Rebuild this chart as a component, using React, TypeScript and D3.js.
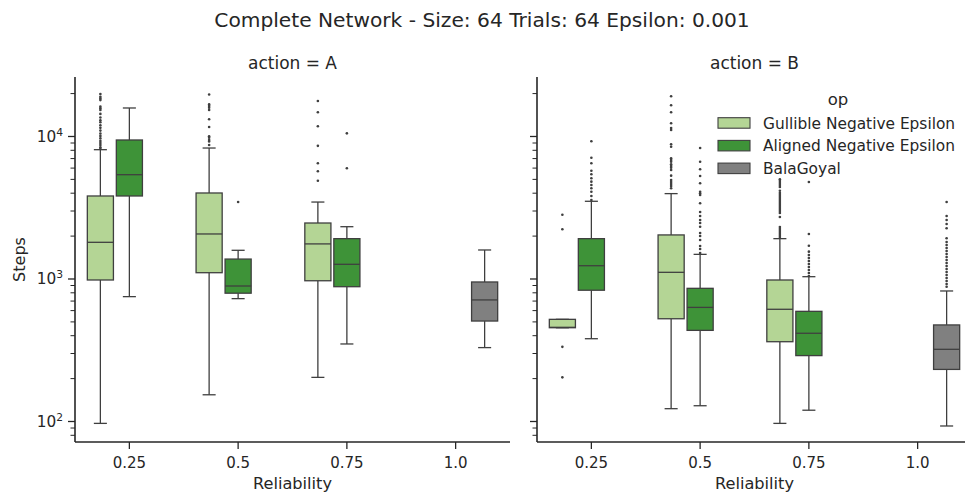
import React, { useEffect, useRef } from 'react'
import * as d3 from 'd3'

const actions = ['A', 'B']
const reliabilities = ['0.25', '0.5', '0.75', '1.0']
const ops = ['Gullible Negative Epsilon', 'Aligned Negative Epsilon', 'BalaGoyal']
const opColors = ['#b4d595', '#3e9338', '#808080']

// [whisker low, q1, median, q3, whisker high] for each reliability, null = not run
const gullibleA = [[97, 984, 1809, 3824, 8080], [154, 1107, 2070, 4014, 8300], [204, 972, 1763, 2471, 3467], null]
const alignedA = [[752, 3824, 5394, 9450, 15850], [728, 795, 893, 1380, 1590], [350, 883, 1268, 1919, 2328], null]
const balaA = [null, null, null, [330, 507, 713, 953, 1598]]
const gullibleB = [[455, 455, 458, 521, 521], [123, 526, 1114, 2038, 3973], [97, 363, 613, 984, 1919], null]
const alignedB = [[381, 834, 1239, 1919, 3510], [129, 436, 632, 860, 1489], [120, 290, 416, 593, 1038], null]
const balaB = [null, null, null, [93, 232, 321, 476, 824]]

// fliers
const gullibleAOut = [
  [19860, 19000, 18500, 18000, 16200, 15800, 15350, 14400, 13600, 13000, 12600, 12000, 11500, 11000, 10500, 10100, 9700, 9300, 9000, 8700, 8400, 8200],
  [19700, 16800, 16400, 15900, 15350, 13200, 11650, 10030, 9800, 9450, 9220, 8720],
  [17740, 14790, 11790, 8600, 6490, 5700, 4890],
  [],
]
const alignedAOut = [[], [3467], [10520, 5990], []]
const balaAOut = [[], [], [], []]
const gullibleBOut = [
  [2825, 2233, 334, 204],
  [19140, 16560, 14790, 12380, 11470, 11110, 8820, 8480, 7030, 6840, 6655, 6380, 6205, 6040, 5820, 5310, 4950, 4797, 4644, 4497, 4330],
  [5007, 4872, 4717, 4566, 4421, 4166, 4013, 3885, 3762, 3642, 3527, 3415, 3306, 3201, 3099, 3001, 2906, 2724, 2317, 2244, 2173, 2103, 2034, 1970],
  [],
]
const alignedBOut = [
  [9253, 7100, 6486, 5754, 5429, 5089, 4819, 4566, 4330, 4099, 3824, 3584],
  [8300, 6655, 5890, 5284, 4694, 4099, 3994, 3885, 3398, 2953, 2768, 2593, 2471, 2328, 2103, 2003, 1876, 1704, 1623, 1522],
  [4797, 2067, 1713, 1555, 1472, 1404, 1337, 1274, 1214, 1156, 1102, 1050],
  [],
]
const balaBOut = [
  [],
  [],
  [],
  [3467, 2768, 2593, 2432, 2269, 1930, 1818, 1730, 1650, 1572, 1497, 1427, 1358, 1295, 1234, 1176, 1120, 1066, 1016, 968, 923, 883],
]

const yMajor = [100, 1000, 10000]

export default function App() {
  const ref = useRef<SVGSVGElement>(null)

  useEffect(() => {
    const svg = d3.select(ref.current)
    svg.selectAll('*').remove()

    const ink = '#262626'
    const lineColor = '#3f3f3f'
    const top = 77
    const bottom = 442
    const panelW = 435
    const panelLeft = [75, 537]

    const stats = [
      [gullibleA, alignedA, balaA],
      [gullibleB, alignedB, balaB],
    ]
    const fliers = [
      [gullibleAOut, alignedAOut, balaAOut],
      [gullibleBOut, alignedBOut, balaBOut],
    ]

    const y = d3.scaleLog().domain([71.8, 26150]).range([bottom, top])
    const minorTicks = y.ticks().filter((t) => !yMajor.includes(t))

    svg
      .append('text')
      .attr('x', 482)
      .attr('y', 27)
      .attr('text-anchor', 'middle')
      .attr('font-size', 20.2)
      .attr('fill', ink)
      .text('Complete Network - Size: 64 Trials: 64 Epsilon: 0.001')

    actions.forEach((action, ai) => {
      const x0 = panelLeft[ai]
      const x = d3.scaleBand().domain(reliabilities).range([x0, x0 + panelW]).padding(0)
      const bw = x.bandwidth()
      const hue = d3.scaleBand().domain(ops).range([-0.4 * bw, 0.4 * bw])
      const boxW = hue.bandwidth() * 0.9
      const g = svg.append('g')

      // facet title
      g.append('text')
        .attr('x', x0 + panelW / 2)
        .attr('y', 69)
        .attr('text-anchor', 'middle')
        .attr('font-size', 17)
        .attr('fill', ink)
        .text(`action = ${action}`)

      // boxes
      ops.forEach((op, oi) => {
        reliabilities.forEach((r, ri) => {
          const s = stats[ai][oi][ri]
          if (!s) return
          const cx = x(r)! + bw / 2 + hue(op)! + hue.bandwidth() / 2
          const [lo, q1, med, q3, hi] = s
          const bg = g.append('g').attr('stroke', lineColor).attr('stroke-width', 1.3)
          bg.append('line').attr('x1', cx).attr('x2', cx).attr('y1', y(q3)).attr('y2', y(hi))
          bg.append('line').attr('x1', cx).attr('x2', cx).attr('y1', y(q1)).attr('y2', y(lo))
          bg.append('line').attr('x1', cx - boxW / 4).attr('x2', cx + boxW / 4).attr('y1', y(hi)).attr('y2', y(hi))
          bg.append('line').attr('x1', cx - boxW / 4).attr('x2', cx + boxW / 4).attr('y1', y(lo)).attr('y2', y(lo))
          bg.append('rect')
            .attr('x', cx - boxW / 2)
            .attr('width', boxW)
            .attr('y', y(q3))
            .attr('height', y(q1) - y(q3))
            .attr('fill', opColors[oi])
          bg.append('line').attr('x1', cx - boxW / 2).attr('x2', cx + boxW / 2).attr('y1', y(med)).attr('y2', y(med))
          g.append('g')
            .selectAll('circle')
            .data(fliers[ai][oi][ri])
            .join('circle')
            .attr('cx', cx)
            .attr('cy', (d) => y(d))
            .attr('r', 1.3)
            .attr('fill', lineColor)
        })
      })

      // y axis
      const ya = g.append('g').attr('stroke', ink)
      ya.append('line').attr('x1', x0).attr('x2', x0).attr('y1', top).attr('y2', bottom).attr('stroke-width', 1.6)
      ya.selectAll('.maj')
        .data(yMajor)
        .join('line')
        .attr('x1', x0 - 7)
        .attr('x2', x0)
        .attr('y1', (d) => y(d))
        .attr('y2', (d) => y(d))
        .attr('stroke-width', 1.3)
      ya.selectAll('.min')
        .data(minorTicks)
        .join('line')
        .attr('x1', x0 - 4.5)
        .attr('x2', x0)
        .attr('y1', (d) => y(d))
        .attr('y2', (d) => y(d))
        .attr('stroke-width', 1)
      if (ai === 0) {
        yMajor.forEach((v) => {
          const t = g.append('text')
            .attr('x', x0 - 12)
            .attr('y', y(v) + 5.5)
            .attr('text-anchor', 'end')
            .attr('font-size', 15.3)
            .attr('fill', ink)
          t.append('tspan').text('10')
          t.append('tspan').attr('font-size', 10.7).attr('dy', -6).text(String(Math.round(Math.log10(v))))
        })
        g.append('text')
          .attr('transform', `translate(25,${(top + bottom) / 2}) rotate(-90)`)
          .attr('text-anchor', 'middle')
          .attr('font-size', 16)
          .attr('fill', ink)
          .text('Steps')
      }

      // x axis
      const xa = g.append('g')
      xa.append('line').attr('x1', x0).attr('x2', x0 + panelW).attr('y1', bottom).attr('y2', bottom).attr('stroke', ink).attr('stroke-width', 1.6)
      reliabilities.forEach((r) => {
        const cx = x(r)! + bw / 2
        xa.append('line').attr('x1', cx).attr('x2', cx).attr('y1', bottom).attr('y2', bottom + 7).attr('stroke', ink).attr('stroke-width', 1.3)
        xa.append('text')
          .attr('x', cx)
          .attr('y', 468)
          .attr('text-anchor', 'middle')
          .attr('font-size', 15)
          .attr('fill', ink)
          .text(r)
      })
      xa.append('text')
        .attr('x', x0 + panelW / 2)
        .attr('y', 489)
        .attr('text-anchor', 'middle')
        .attr('font-size', 16.2)
        .attr('fill', ink)
        .text('Reliability')
    })

    // legend
    const lg = svg.append('g')
    lg.append('text').attr('x', 838).attr('y', 105).attr('text-anchor', 'middle').attr('font-size', 16.5).attr('fill', ink).text('op')
    ops.forEach((op, i) => {
      lg.append('rect')
        .attr('x', 718)
        .attr('y', 117.7 + i * 22.7)
        .attr('width', 32)
        .attr('height', 10.5)
        .attr('fill', opColors[i])
        .attr('stroke', lineColor)
        .attr('stroke-width', 1.1)
      lg.append('text')
        .attr('x', 763)
        .attr('y', 128.5 + i * 22.7)
        .attr('font-size', 15.4)
        .attr('fill', ink)
        .text(op)
    })
  }, [])

  return (
    <svg
      ref={ref}
      width={965}
      height={493}
      style={{ position: 'absolute', left: 0, top: 0, fontFamily: 'DejaVu Sans', background: '#fff' }}
    />
  )
}
